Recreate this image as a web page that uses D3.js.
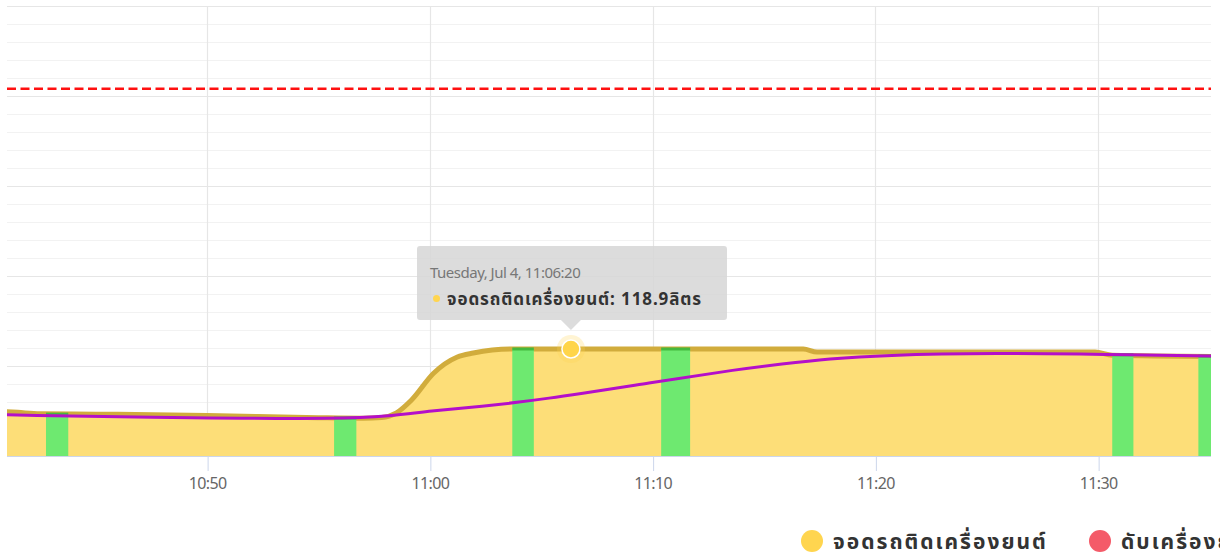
<!DOCTYPE html>
<html><head><meta charset="utf-8">
<script src="https://cdn.jsdelivr.net/npm/d3@7"></script>
<style>
html,body{margin:0;padding:0;background:#fff;}
svg{display:block;font-family:"Noto Sans","Noto Sans Thai",Lato,sans-serif;}
</style></head>
<body><svg id="c" width="1220" height="557"></svg>
<script>
// ---- data ----
const day = "2023-07-04";
const xDomain = ["10:41:01", "11:35:04"];
const xTickLabels = ["10:50", "11:00", "11:10", "11:20", "11:30"];
const yDomain = [0, 500];
const yMajorTicks = [0, 100, 200, 300, 400, 500];
const thresholdValue = 408;

// series: จอดรถติดเครื่องยนต์ (area)
const idleTimes  = ["10:40:30","10:41:30","10:42:30","10:45:00","10:50:00","10:55:00","10:57:00","10:57:50","10:58:30","10:59:10","11:00:10","11:01:14","11:01:57","11:03:36","11:16:46","11:17:23","11:29:52","11:30:38","11:36:00"];
const idleValues = [50,      48.5,      47,        46.5,      45,        42.5,      42,        42.8,      48,        62,        92,        110,       114.4,     118.9,     118.9,     115.5,     115.5,     112,       110.5];

// smoothed trend line (purple)
const trendTimes  = ["10:40:30","10:41:01","10:49:41","10:55:58","10:58:13","11:00:01","11:02:16","11:04:57","11:10:02","11:13:56","11:15:44","11:17:58","11:20:13","11:25:37","11:30:06","11:36:00"];
const trendValues = [46,        45.5,      42.2,      41.1,      44.4,      50,        55,        62.2,      82,        96.7,      102,       108,       112,       114.4,     113,       110.8];

// green event bars (start, end, value)
const barStarts = ["10:42:46","10:55:42","11:03:42","11:10:23","11:30:38","11:34:30"];
const barEnds   = ["10:43:46","10:56:42","11:04:40","11:11:41","11:31:35","11:35:30"];
const barValues = [46.5,      42.2,      118.9,     118.9,     112.5,     111];

// tooltip / hover
const hoverTime = "11:06:20";
const hoverValue = 118.9;
const tooltipDate = "Tuesday, Jul 4, 11:06:20";
const seriesNames = ["จอดรถติดเครื่องยนต์", "ดับเครื่องยนต์"];
const seriesColors = ["#FFD54F", "#F45B69"];
const unit = "ลิตร";

// ---- layout ----
const P = {left: 7, right: 1211, top: 6, bottom: 456};
const t = s => new Date(day + "T" + (s.length === 5 ? s + ":00" : s));

const svg = d3.select("#c");
const x = d3.scaleTime().domain(xDomain.map(t)).range([P.left, P.right]);
const y = d3.scaleLinear().domain(yDomain).range([P.bottom, P.top]);

// clip
svg.append("defs").append("clipPath").attr("id","plot")
  .append("rect").attr("x",P.left).attr("y",0).attr("width",P.right-P.left).attr("height",P.bottom);

// minor grid
const minor = d3.range(yDomain[0], yDomain[1] + 1, 20);
svg.append("g").selectAll("line").data(minor.filter(v => !yMajorTicks.includes(v))).join("line")
  .attr("x1",P.left).attr("x2",P.right).attr("y1",d=>y(d)+0.5).attr("y2",d=>y(d)+0.5)
  .attr("stroke","#f2f2f2").attr("stroke-width",1);
svg.append("g").selectAll("line").data(yMajorTicks.filter(v=>v>0)).join("line")
  .attr("x1",P.left).attr("x2",P.right).attr("y1",d=>y(d)+0.5).attr("y2",d=>y(d)+0.5)
  .attr("stroke","#e6e6e6").attr("stroke-width",1.2);

// vertical grid + x axis
const xTicks = xTickLabels.map(t);
svg.append("g").selectAll("line").data(xTicks).join("line")
  .attr("x1",d=>Math.round(x(d))+0.5).attr("x2",d=>Math.round(x(d))+0.5)
  .attr("y1",P.top).attr("y2",P.bottom)
  .attr("stroke","#e6e6e6").attr("stroke-width",1.2);

const xAxis = svg.append("g").attr("transform",`translate(0,${P.bottom})`)
  .call(d3.axisBottom(x).tickValues(xTicks).tickFormat(d3.timeFormat("%H:%M")).tickSize(15).tickPadding(7));
xAxis.select(".domain").attr("d",`M${P.left},0.5H${P.right}`).attr("stroke","#ccd6eb");
xAxis.selectAll(".tick line").attr("stroke","#ccd6eb").attr("transform","translate(0.5,0)");
xAxis.selectAll(".tick text").attr("fill","#666").attr("font-size",16).attr("letter-spacing","-0.6px")
  .attr("font-family","'Noto Sans',sans-serif");

// threshold red dashed line
svg.append("line").attr("x1",P.left).attr("x2",P.right)
  .attr("y1",y(thresholdValue)).attr("y2",y(thresholdValue))
  .attr("stroke","#ff1010").attr("stroke-width",2.6).attr("stroke-dasharray","9,4.5");

const plot = svg.append("g").attr("clip-path","url(#plot)");

// area
const idle = idleTimes.map((s,i)=>({t:t(s), v:idleValues[i]}));
const area = d3.area().x(d=>x(d.t)).y0(P.bottom).y1(d=>y(d.v)).curve(d3.curveMonotoneX);
const line = d3.line().x(d=>x(d.t)).y(d=>y(d.v)).curve(d3.curveMonotoneX);
plot.append("path").datum(idle).attr("d",area).attr("fill","#FDDE78");
plot.append("path").datum(idle).attr("d",line).attr("fill","none").attr("stroke","#D1AC3C").attr("stroke-width",5);

// green bars
const bars = barStarts.map((s,i)=>({a:t(s), b:t(barEnds[i]), v:barValues[i]}));
plot.append("g").selectAll("rect").data(bars).join("rect")
  .attr("x",d=>x(d.a)).attr("width",d=>x(d.b)-x(d.a))
  .attr("y",d=>y(d.v)).attr("height",d=>P.bottom-y(d.v))
  .attr("fill","#6EE970");
plot.append("g").selectAll("line").data(bars).join("line")
  .attr("x1",d=>x(d.a)).attr("x2",d=>x(d.b)).attr("y1",d=>y(d.v)).attr("y2",d=>y(d.v))
  .attr("stroke","#45B83E").attr("stroke-width",3);

// purple trend
const trend = trendTimes.map((s,i)=>({t:t(s), v:trendValues[i]}));
plot.append("path").datum(trend).attr("d",d3.line().x(d=>x(d.t)).y(d=>y(d.v)).curve(d3.curveBasis))
  .attr("fill","none").attr("stroke","#B40FC9").attr("stroke-width",3);

// hover marker
const hx = x(t(hoverTime)), hy = y(hoverValue);
svg.append("circle").attr("cx",hx).attr("cy",hy).attr("r",14).attr("fill","#FFD54F").attr("opacity",0.25);
svg.append("circle").attr("cx",hx).attr("cy",hy).attr("r",9).attr("fill","#FFD54A").attr("stroke","#fff").attr("stroke-width",1.5);

// tooltip
const tb = {x: 417, y: 246, w: 310, h: 74};
const tip = svg.append("g");
tip.append("path")
  .attr("d",`M${tb.x+3},${tb.y}H${tb.x+tb.w-3}Q${tb.x+tb.w},${tb.y} ${tb.x+tb.w},${tb.y+3}V${tb.y+tb.h-3}Q${tb.x+tb.w},${tb.y+tb.h} ${tb.x+tb.w-3},${tb.y+tb.h}H${hx+10}L${hx},${tb.y+tb.h+10}L${hx-10},${tb.y+tb.h}H${tb.x+3}Q${tb.x},${tb.y+tb.h} ${tb.x},${tb.y+tb.h-3}V${tb.y+3}Q${tb.x},${tb.y} ${tb.x+3},${tb.y}Z`)
  .attr("fill","rgba(214,214,214,0.85)");
tip.append("text").attr("x",430).attr("y",278).attr("font-size",15).attr("fill","#777")
  .attr("letter-spacing","-0.5px").text(tooltipDate);
tip.append("circle").attr("cx",436.5).attr("cy",298.5).attr("r",3.5).attr("fill",seriesColors[0]);
tip.append("text").attr("x",447).attr("y",305).attr("font-size",17).attr("font-weight","bold").attr("fill","#333")
  .attr("letter-spacing","0.9px")
  .text(`${seriesNames[0]}: ${hoverValue}${unit}`);

// legend
const leg = svg.append("g");
const legX = [812, 1100];
seriesNames.forEach((n,i)=>{
  leg.append("circle").attr("cx",legX[i]).attr("cy",541).attr("r",11).attr("fill",seriesColors[i]);
  leg.append("text").attr("x",legX[i]+21).attr("y",549).attr("font-size",21).attr("font-weight","bold")
    .attr("letter-spacing","2px").attr("fill","#333").text(n);
});
</script></body></html>
